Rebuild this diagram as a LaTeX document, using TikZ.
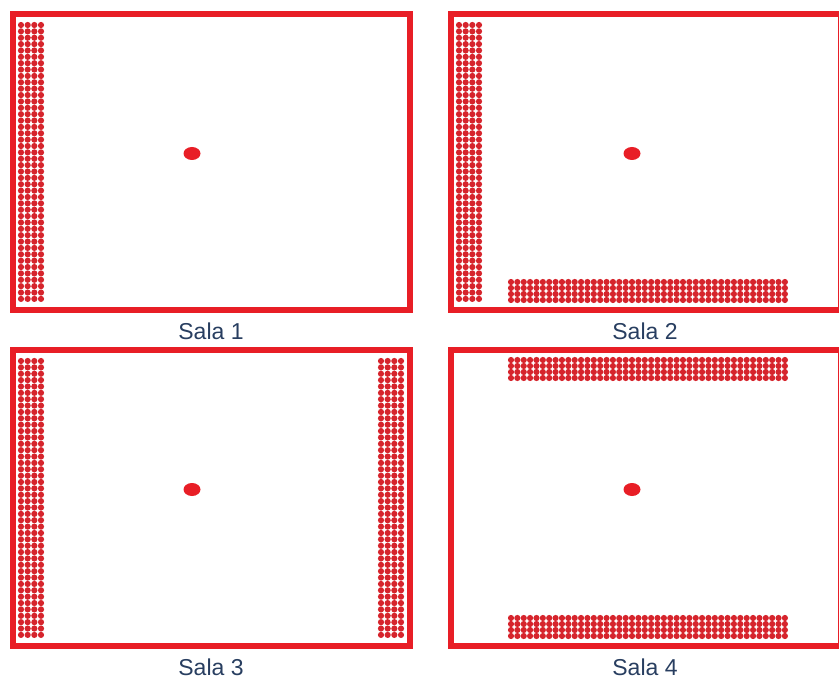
\documentclass[tikz,border=0pt]{standalone}
\usepackage{fontspec}
\setmainfont{Liberation Sans}
\usetikzlibrary{math}
\definecolor{salared}{RGB}{232,30,38}
\definecolor{seatred}{RGB}{214,36,44}
\definecolor{salablue}{RGB}{40,62,96}

\begin{document}
\begin{tikzpicture}[x=1pt,y=-1pt,
  wall/.style={draw=salared, line width=6pt},
  seat/.style={fill=seatred},
  speaker/.style={fill=salared},
  salalabel/.style={text=salablue, font=\fontsize{23}{25}\selectfont, inner sep=0pt}]
\tikzmath{
\p=6.37;
\r=3.1;
\dx=438;
\dy=336;
}
\useasboundingbox (0,0) rectangle (839,682);
%walls
\draw[wall] (12.5,14) rectangle (409.5,310);
\draw[wall] (12.5+\dx,14) rectangle (841,310);
\draw[wall] (12.5,14+\dy) rectangle (409.5,310+\dy);
\draw[wall] (12.5+\dx,14+\dy) rectangle (841,310+\dy);

%sala 1
\foreach \i in {0,...,43}{
  \foreach \j in {0,...,3}{
    \fill[seat] (21+\j*6.67,25+\i*\p) circle (\r);
  }
}
%sala 2
\foreach \i in {0,...,43}{
  \foreach \j in {0,...,3}{
    \fill[seat] (21+\dx+\j*6.67,25+\i*\p) circle (\r);
    \fill[seat] (511+\i*\p,282+\j*6) circle (\r);
  }
}
%sala 3
\foreach \i in {0,...,43}{
  \foreach \j in {0,...,3}{
    \fill[seat] (21+\j*6.67,25+\dy+\i*\p) circle (\r);
    \fill[seat] (381+\j*6.67,25+\dy+\i*\p) circle (\r);
  }
}
%sala 4
\foreach \i in {0,...,43}{
  \foreach \j in {0,...,3}{
    \fill[seat] (511+\i*\p,360+\j*6) circle (\r);
    \fill[seat] (511+\i*\p,618+\j*6) circle (\r);
  }
}

%sources
\fill[speaker] (192,153.5) ellipse (8.5 and 6.5);
\fill[speaker] (192+\dx+2,153.5) ellipse (8.5 and 6.5);
\fill[speaker] (192,153.5+\dy) ellipse (8.5 and 6.5);
\fill[speaker] (192+\dx+2,153.5+\dy) ellipse (8.5 and 6.5);

%names
\node[salalabel] (sala1) at (211,331) {Sala 1};
\node[salalabel] (sala2) at (645,331) {Sala 2};
\node[salalabel] (sala3) at (211,667) {Sala 3};
\node[salalabel] (sala4) at (645,667) {Sala 4};
\end{tikzpicture}
\end{document}
